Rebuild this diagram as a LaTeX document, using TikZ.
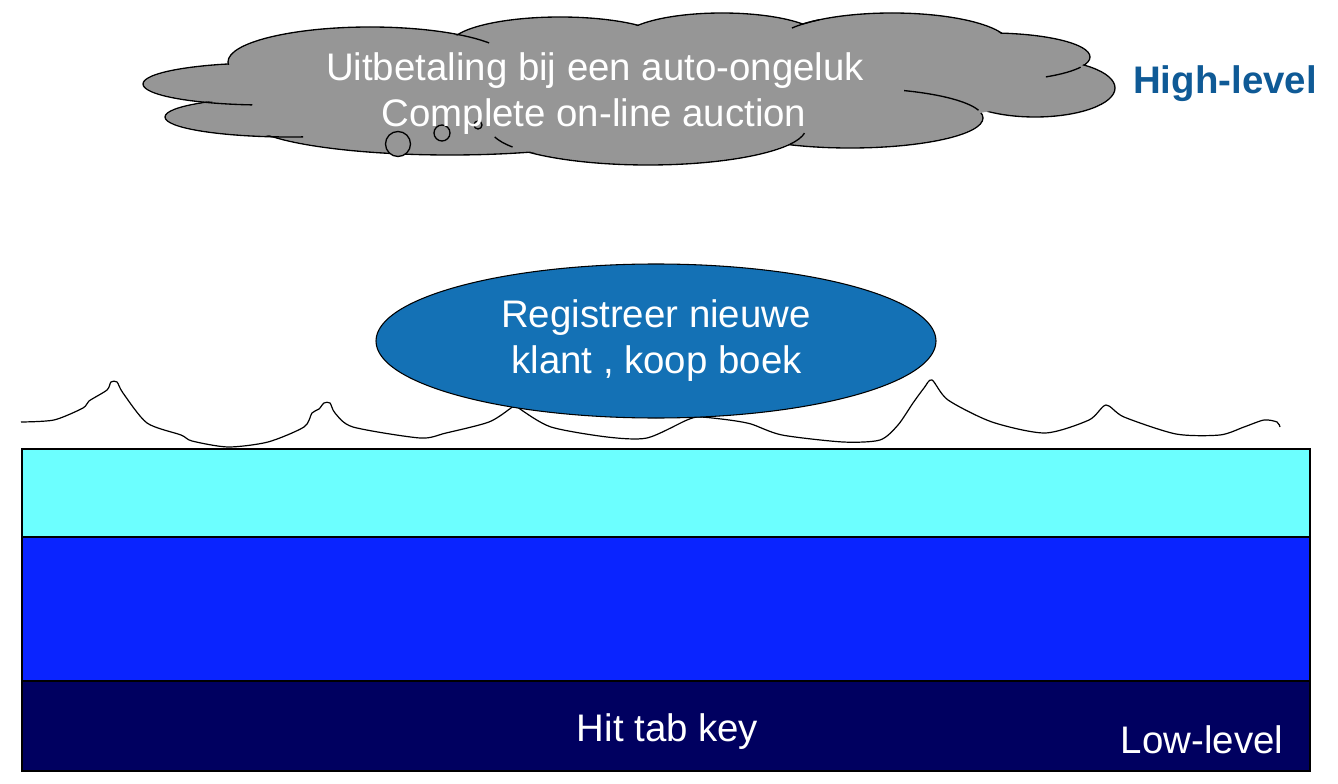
\documentclass[tikz,border=0pt]{standalone}
\usepackage{fontspec}
\setmainfont{Liberation Sans}
\usetikzlibrary{shapes.geometric}
\definecolor{cloudgray}{HTML}{969696}
\definecolor{ellblue}{HTML}{1471B5}
\definecolor{layercyan}{HTML}{6CFFFF}
\definecolor{layerblue}{HTML}{0A24FF}
\definecolor{layernavy}{HTML}{000060}
\definecolor{hlblue}{HTML}{0F5A96}
\begin{document}
\begin{tikzpicture}[x=0.75pt,y=-0.75pt,
  lbl/.style={font=\fontsize{28.8}{33}\selectfont, inner sep=0pt, anchor=base},
  lobe/.style={fill=cloudgray, draw=black, line width=1pt},
  stub/.style={draw=black, line width=1pt},
  layer/.style={draw=black, line width=1.4pt},
  bubble/.style={circle, draw=black, fill=cloudgray, line width=1pt, inner sep=0pt}]
\useasboundingbox (0,0) rectangle (1338,784);
\fill[white] (0,0) rectangle (1338,784);

% ---- cloud ----
\foreach \cx/\cy/\rx/\ry in {265/84/122/21, 290/117/125/20, 370/62/142/35, 560/45/110/28,
   722/40/100/27, 892/45/118/32, 990/57/100/24, 1035/88/80/29, 850/118/133/30,
   648/128/158/37, 450/120/202/35}
  \draw[lobe] (\cx,\cy) ellipse [x radius=\rx, y radius=\ry];
\foreach \cx/\cy/\rx/\ry in {265/84/122/21, 290/117/125/20, 370/62/142/35, 560/45/110/28,
   722/40/100/27, 892/45/118/32, 990/57/100/24, 1035/88/80/29, 850/118/133/30,
   648/128/158/37, 450/120/202/35}
  \fill[cloudgray] (\cx,\cy) ellipse [x radius=\rx-1.3, y radius=\ry-1.3];
\fill[cloudgray] (630,88) ellipse [x radius=420, y radius=45];
% inner arcs of the cloud
\foreach \cx/\cy/\rx/\ry/\a/\b in {265/84/122/21/119/96, 370/62/142/35/-52/-33,
   892/45/118/32/-148/-128, 990/57/100/24/25/56, 850/118/133/30/-66/-15,
   648/128/158/37/26/8, 648/128/158/37/149/166, 290/117/125/20/99/84}
  \draw[stub] (\cx,\cy) ++({\rx*cos(\a)},{\ry*sin(\a)}) arc[start angle=\a, end angle=\b, x radius=\rx, y radius=\ry];
\node[bubble, minimum size=25*0.75pt] (b1) at (398,144) {};
\node[bubble, minimum size=16*0.75pt] (b2) at (442,133) {};
\node[bubble, minimum size=8*0.75pt] (b3) at (478,125) {};
\node[lbl, text=white] (c1) at (595,81) {Uitbetaling bij een auto-ongeluk};
\node[lbl, text=white] (c2) at (594,127) {Complete on-line auction};

\node[lbl, text=hlblue, font=\fontsize{28.8}{33}\selectfont\bfseries] (hl) at (1225,94) {High-level};

% ---- wave ----
\draw[line width=0.9pt, line join=round] plot[smooth, tension=0.45] coordinates {
 (21,422) (54,420) (83,408) (89,401) (107,390) (111,382) (117,382) (123,393) (147,423)
 (181,435) (192,441) (228,447) (268,442) (304,427) (312,413) (319,409) (324,403) (330,403)
 (335,413) (353,427) (420,438) (446,433) (489,422) (511,408) (516,404) (520,409) (551,427)
 (607,437) (647,438) (687,420) (700,417) (729,420) (751,424) (782,435) (843,442) (880,440)
 (898,425) (913,403) (924,388) (932,380) (948,400) (992,422) (1045,433) (1089,420)
 (1106,405) (1124,417) (1176,434) (1220,435) (1244,427) (1264,420) (1277,422) (1280,427)};

% ---- ellipse ----
\node[ellipse, draw=black, line width=0.8pt, fill=ellblue, minimum width=560*0.75pt,
  minimum height=154*0.75pt, inner sep=0pt] (task) at (656,341) {};
\node[lbl, text=white] (t1) at (656,327) {Registreer nieuwe};
\node[lbl, text=white] (t2) at (656.5,373) {klant , koop boek};

% ---- layers ----
\draw[layer, fill=layercyan] (22,449) rectangle (1310,537);
\draw[layer, fill=layerblue] (22,537) rectangle (1310,681);
\draw[layer, fill=layernavy] (22,681) rectangle (1310,771);
\node[lbl, text=white] (hit) at (667.5,741) {Hit tab key};
\node[lbl, text=white] (ll) at (1202,753) {Low-level};
\end{tikzpicture}
\end{document}
